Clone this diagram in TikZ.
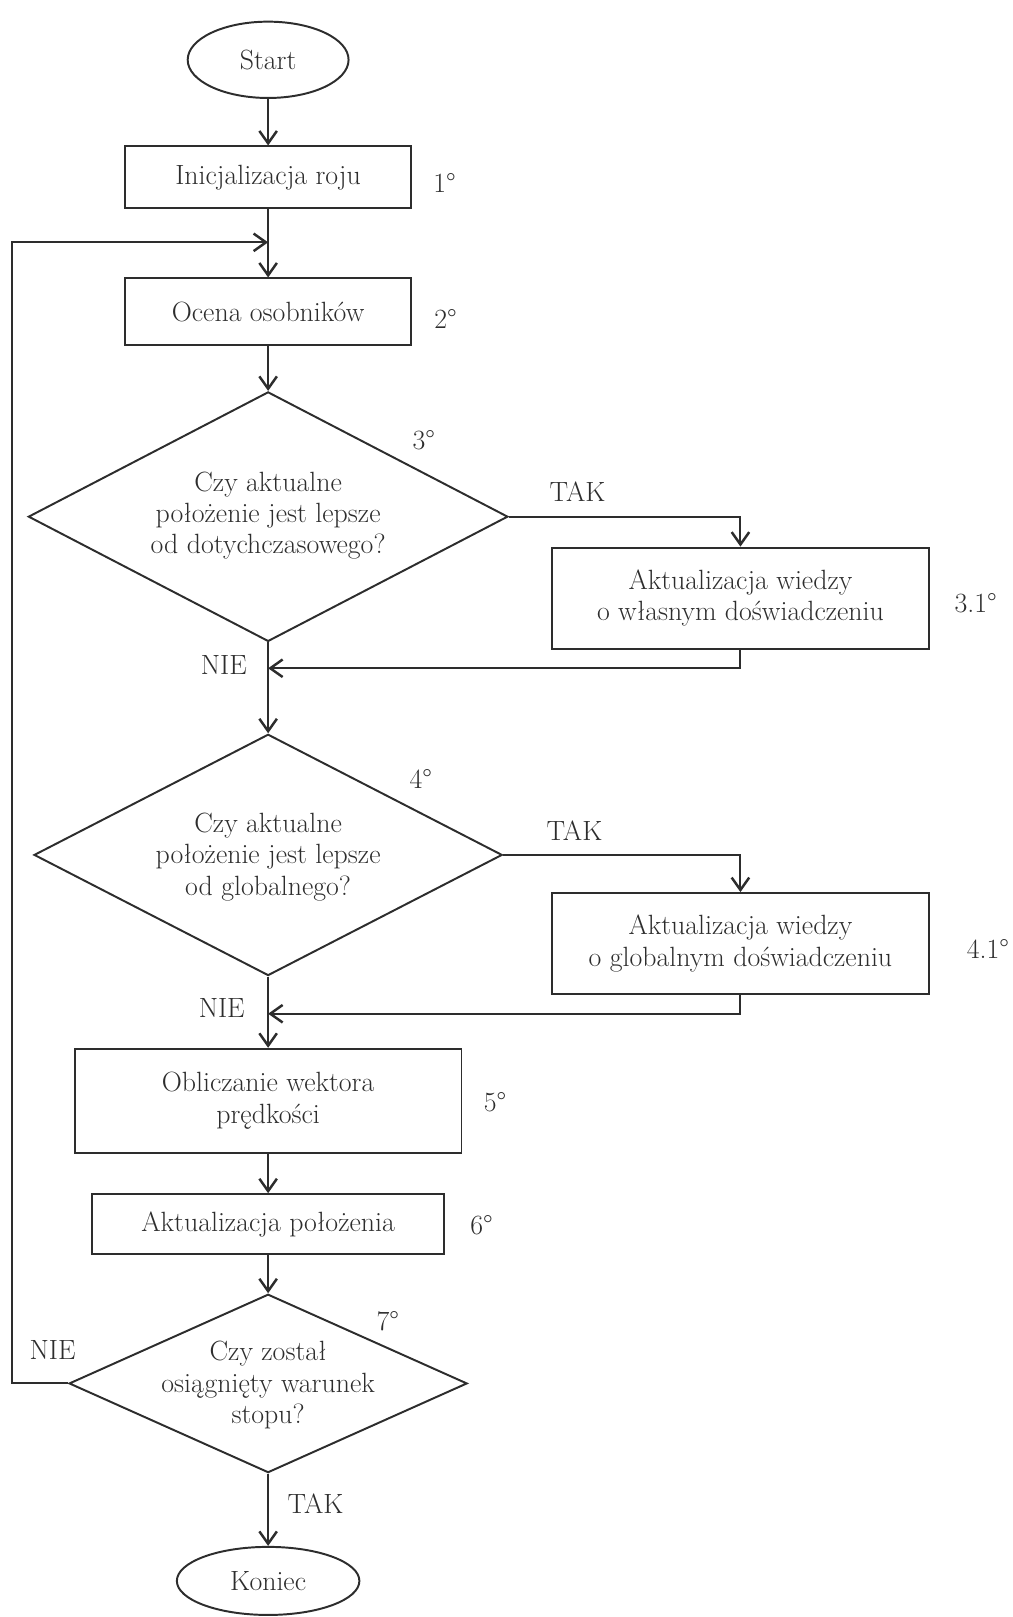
\documentclass[tikz,border=0pt]{standalone}
\usepackage{fontspec}
\usetikzlibrary{shapes.geometric,arrows.meta}
\definecolor{ink}{RGB}{45,45,45}
\newcommand\diagfont{\fontsize{27}{30.5}\selectfont}
\begin{document}
\begin{tikzpicture}[x=1pt,y=-1pt,line width=1.9pt,color=ink,
  box/.style={draw,rectangle,inner sep=0pt,align=center,font=\diagfont},
  term/.style={draw,ellipse,inner sep=0pt,font=\diagfont},
  dec/.style={draw,diamond,inner sep=0pt},
  lbl/.style={inner sep=0pt,align=center,font=\diagfont},
  arr/.style={-{Straight Barb[length=12pt,width=17pt,line width=2.4pt]}}]
\useasboundingbox (0,0) rectangle (982,1568);
% nodes
\node[term,minimum width=156,minimum height=74] (start) at (260,58) {Start};
\node[box,minimum width=278,minimum height=60] (b1) at (260,172) {Inicjalizacja roju};
\node[box,minimum width=278,minimum height=65] (b2) at (260,302.5) {Ocena osobników};
\node[dec,minimum width=465,minimum height=242] (d3) at (260,501) {};
\node[lbl] (t3) at (260,500) {Czy aktualne\\położenie jest lepsze\\od dotychczasowego?};
\node[box,minimum width=366,minimum height=98] (b31) at (718,580) {Aktualizacja wiedzy\\o własnym doświadczeniu};
\node[dec,minimum width=454,minimum height=234] (d4) at (260,829) {};
\node[lbl] (t4) at (260,831) {Czy aktualne\\położenie jest lepsze\\od globalnego?};
\node[box,minimum width=366,minimum height=98] (b41) at (718,915) {Aktualizacja wiedzy\\o globalnym doświadczeniu};
\node[box,minimum width=375,minimum height=101] (b5) at (260,1067.5) {Obliczanie wektora\\prędkości};
\node[box,minimum width=342,minimum height=58] (b6) at (260,1187) {Aktualizacja położenia};
\node[dec,minimum width=386,minimum height=173] (d7) at (260,1341.5) {};
\node[lbl] (t7) at (260,1343) {Czy został\\osiągnięty warunek\\stopu?};
\node[term,minimum width=177,minimum height=66] (end) at (260,1533) {Koniec};
% step labels
\node[lbl] (n1) at (431,177) {1°};
\node[lbl] (n2) at (432,309) {2°};
\node[lbl] (n3) at (411,427) {3°};
\node[lbl] (n31) at (946,585) {3.1°};
\node[lbl] (n4) at (408,755) {4°};
\node[lbl] (n41) at (958,920) {4.1°};
\node[lbl] (n5) at (480,1069) {5°};
\node[lbl] (n6) at (467,1188) {6°};
\node[lbl] (n7) at (376,1281) {7°};
% branch labels
\node[lbl] (tak3) at (560,477) {TAK};
\node[lbl] (nie3) at (217,645) {NIE};
\node[lbl] (tak4) at (557,805) {TAK};
\node[lbl] (nie4) at (215,977) {NIE};
\node[lbl] (nie7) at (51,1309) {NIE};
\node[lbl] (tak7) at (306,1458) {TAK};
% junctions
\coordinate (j1) at (260,235);
\coordinate (lx) at (12,235);
\coordinate (j2) at (260,648);
\coordinate (j3) at (260,983);
% connectors
\draw[arr] (start) -- (b1);
\draw[arr] (b1) -- (b2);
\draw[arr] (b2) -- (d3);
\draw[arr] (d3.east) -| (b31.north);
\draw[arr] (b31.south) |- (j2);
\draw[arr] (d3.south) -- (d4.north);
\draw[arr] (d4.east) -| (b41.north);
\draw[arr] (b41.south) |- (j3);
\draw[arr] (d4.south) -- (b5.north);
\draw[arr] (b5) -- (b6);
\draw[arr] (b6) -- (d7.north);
\draw[arr] (d7.south) -- (end);
\draw[arr] (d7.west) -- (lx |- d7.west) -- (lx) -- (j1);
\end{tikzpicture}
\end{document}
